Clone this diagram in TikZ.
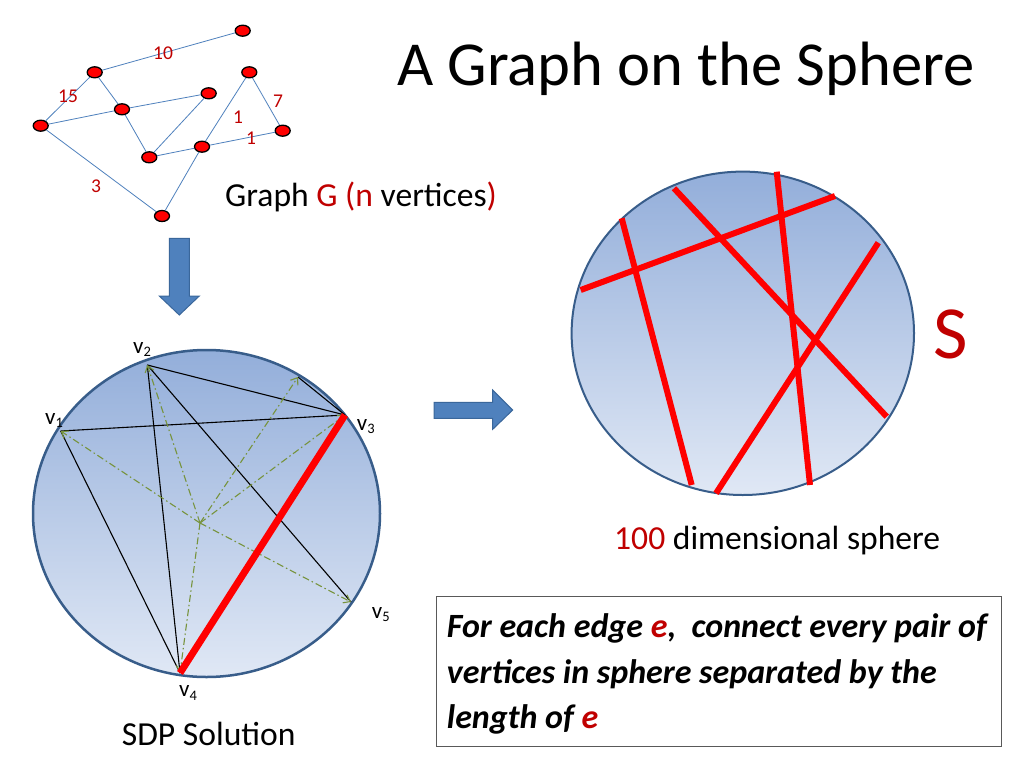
\documentclass[tikz,border=0pt]{standalone}
\usepackage{fontspec}
\setmainfont{Carlito}
\usetikzlibrary{arrows.meta, shapes.geometric}
\definecolor{darkred}{HTML}{C00000}
\definecolor{edgeblue}{HTML}{4F81BD}
\definecolor{rimblue}{HTML}{385D8A}
\definecolor{shadetop}{HTML}{93AEDA}
\definecolor{shadebot}{HTML}{E0E8F5}
\definecolor{raygreen}{HTML}{77933C}
\definecolor{arrowrim}{HTML}{3A679B}
\definecolor{boxgray}{HTML}{595959}
\newcommand{\vsub}[1]{\raisebox{-0.3ex}{\fontsize{14.5}{14.5}\selectfont #1}}

\begin{document}
\begin{tikzpicture}[x=1pt, y=-1pt,
  vertex/.style={ellipse, draw=black, fill=red, line width=1.3pt, minimum width=15pt, minimum height=11pt, inner sep=0pt},
  weight/.style={text=darkred, inner sep=0pt, font=\fontsize{19.5}{19.5}\selectfont},
  textline/.style={anchor=base west, inner sep=0pt},
  vlabel/.style={anchor=base west, inner sep=0pt, font=\fontsize{23}{23}\selectfont},
  ray/.style={draw=raygreen, line width=1.1pt, dash pattern=on 7pt off 3pt on 1.5pt off 3pt, -{Straight Barb[length=6pt, width=9pt]}},
  redcut/.style={draw=red, line width=6pt}]
\useasboundingbox (0,0) rectangle (1024,768);
\fill[white] (0,0) rectangle (1024,768);

% title
\node[textline, font=\fontsize{62.6}{62.6}\selectfont] (title) at (397,85) {A Graph on the Sphere};

% the weighted graph
\node[vertex] at (242.7,30.7) (a) {};
\node[vertex] at (94.7,72.3) (b) {};
\node[vertex] at (249.3,72.3) (c) {};
\node[vertex] at (208.7,93.3) (d) {};
\node[vertex] at (122,109.3) (e) {};
\node[vertex] at (40.7,125.7) (f) {};
\node[vertex] at (282.7,130.7) (g) {};
\node[vertex] at (202,146.7) (h) {};
\node[vertex] at (149.3,157.3) (i) {};
\node[vertex] at (162,216) (j) {};
\begin{scope}[edgeblue, line width=0.8pt]
\draw (b) -- (a);
\draw (b) -- (f);
\draw (b) -- (e);
\draw (f) -- (e);
\draw (e) -- (d);
\draw (e) -- (i);
\draw (i) -- (d);
\draw (i) -- (h);
\draw (h) -- (g);
\draw (h) -- (c);
\draw (c) -- (g);
\draw (f) -- (j);
\draw (j) -- (h);
\end{scope}
\node[weight] at (163,53) {10};
\node[weight] at (68,96) {15};
\node[weight] at (238,117) {1};
\node[weight] at (278,101) {7};
\node[weight] at (251,138) {1};
\node[weight] at (96,186) {3};
\node[textline, font=\fontsize{33.6}{33.6}\selectfont] (graphG) at (225,206.7)
  {Graph \textcolor{darkred}{G (n} vertices\textcolor{darkred}{)}};

% block arrows
\filldraw[fill=edgeblue, draw=arrowrim, line width=1pt] (169.3,238.3) -- (189.3,238.3) -- (189.3,296)
  -- (199.3,296) -- (179.3,315) -- (159.3,296) -- (169.3,296) -- cycle;
\filldraw[fill=edgeblue, draw=arrowrim, line width=1pt] (434,402.3) -- (492.7,402.3) -- (492.7,390)
  -- (512.7,410) -- (492.7,429.3) -- (492.7,418.3) -- (434,418.3) -- cycle;

% SDP solution
\shade[top color=shadetop, bottom color=shadebot] (206.5,513.5) ellipse [x radius=173.5, y radius=163.5];
\draw[rimblue, line width=2.5pt] (206.5,513.5) ellipse [x radius=173.5, y radius=163.5];
\coordinate (v1) at (60.7,431);
\coordinate (v2) at (147.3,365);
\coordinate (v3) at (345,415);
\coordinate (v4) at (180,673);
\coordinate (v5) at (351,602);
\coordinate (v6) at (298,377);
\coordinate (o) at (200,523);
\begin{scope}[black, line width=1.1pt]
\draw (v1) -- (v3);
\draw (v2) -- (v3);
\draw (v2) -- (v4);
\draw (v2) -- (v5);
\draw (v1) -- (v4);
\draw (v3) -- (v6);
\end{scope}
\foreach \v in {v1,v2,v3,v4,v5,v6}
  \draw[ray] (o) -- (\v);
\draw[redcut, line width=7pt] (v3) -- (v4);
\node[vlabel] (l1) at (45,424.3) {v\vsub{1}};
\node[vlabel] (l2) at (133,353.3) {v\vsub{2}};
\node[vlabel] (l3) at (356.7,430) {v\vsub{3}};
\node[vlabel] (l4) at (179,696.7) {v\vsub{4}};
\node[vlabel] (l5) at (371.7,618) {v\vsub{5}};
\node[textline, font=\fontsize{33.6}{33.6}\selectfont] (sdp) at (121.7,745) {SDP Solution};

% the sphere S
\shade[top color=shadetop, bottom color=shadebot] (742.8,333.3) ellipse [x radius=171.2, y radius=161.7];
\draw[rimblue, line width=2pt] (742.8,333.3) ellipse [x radius=171.2, y radius=161.7];
\coordinate (s1a) at (580.7,290);   \coordinate (s1b) at (835,196);
\coordinate (s2a) at (621.7,218.3); \coordinate (s2b) at (691.7,485);
\coordinate (s3a) at (674,188.3);   \coordinate (s3b) at (886.7,416.7);
\coordinate (s4a) at (776.7,171.7); \coordinate (s4b) at (810,485);
\coordinate (s5a) at (878.3,242.7); \coordinate (s5b) at (716,493.3);
\foreach \n in {1,...,5}
  \draw[redcut] (s\n a) -- (s\n b);
\node[textline, text=darkred, font=\fontsize{75}{75}\selectfont] (S) at (933,358) {S};
\node[textline, font=\fontsize{33.6}{33.6}\selectfont] (dim) at (614,549.7)
  {\textcolor{darkred}{100} dimensional sphere};

% the rule
\node[draw=boxgray, line width=1pt, anchor=north west, minimum width=565.4pt, minimum height=150pt, inner sep=0pt] (box) at (435.6,596) {};
\begin{scope}[font=\fontsize{34}{34}\selectfont\bfseries\itshape]
\node[textline] (r1) at (446.7,637) {For each edge \textcolor{darkred}{e},\ \ connect every pair of};
\node[textline] (r2) at (446.7,683.6) {vertices in sphere separated by the};
\node[textline] (r3) at (446.7,728) {length of \textcolor{darkred}{e}};
\end{scope}
\end{tikzpicture}
\end{document}
